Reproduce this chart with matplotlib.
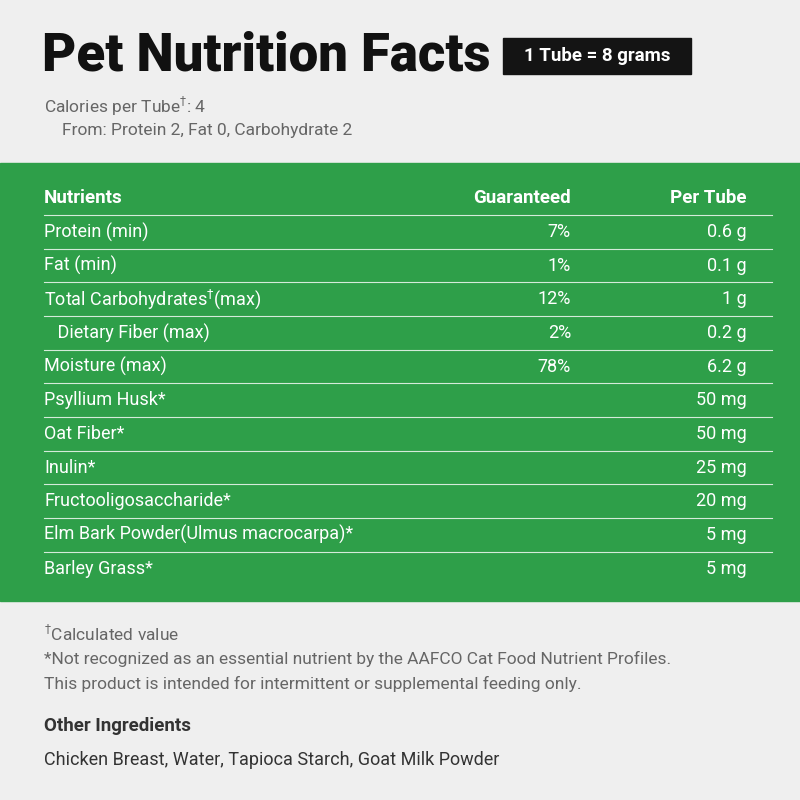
import matplotlib.pyplot as plt
from matplotlib.patches import Rectangle

nutrients = ['Protein (min)', 'Fat (min)', 'Total Carbohydrates$^{\\dagger}$(max)', '   Dietary Fiber (max)',
             'Moisture (max)', 'Psyllium Husk*', 'Oat Fiber*', 'Inulin*', 'Fructooligosaccharide*',
             'Elm Bark Powder(Ulmus macrocarpa)*', 'Barley Grass*']
guaranteed = ['7%', '1%', '12%', '2%', '78%', '', '', '', '', '', '']
per_tube = ['0.6 g', '0.1 g', '1 g', '0.2 g', '6.2 g', '50 mg', '50 mg', '25 mg', '20 mg', '5 mg', '5 mg']

green = '#2e9f49'
bg = '#efefef'
font = 'Roboto'

fig = plt.figure(figsize=(8, 8), dpi=100, facecolor=bg)
ax = fig.add_axes([0, 0, 1, 1])
ax.set_xlim(0, 800)
ax.set_ylim(800, 0)
ax.axis('off')
ax.set_facecolor(bg)

# title
ax.text(42, 56, 'Pet Nutrition Facts', fontsize=38, fontweight='black', family=font,
        va='center', ha='left', color='#111111')
ax.add_patch(Rectangle((503, 38), 188, 36, color='#141414'))
ax.text(597, 56, '1 Tube = 8 grams', fontsize=13.5, fontweight='bold', family=font,
        color='white', va='center', ha='center')
ax.text(44, 106, 'Calories per Tube$^{\\dagger}$: 4', fontsize=12.5, family=font, color='#666666', va='center')
ax.text(62, 130, 'From: Protein 2, Fat 0, Carbohydrate 2', fontsize=12.5, family=font, color='#666666', va='center')

# green table
ax.add_patch(Rectangle((0, 163), 800, 438, color=green))
ax.text(44, 198, 'Nutrients', fontsize=13.5, fontweight='bold', family=font, color='white', va='center')
ax.text(571, 198, 'Guaranteed', fontsize=13.5, fontweight='bold', family=font, color='white', va='center', ha='right')
ax.text(747, 198, 'Per Tube', fontsize=13.5, fontweight='bold', family=font, color='white', va='center', ha='right')
step = 33.65
for i, (n, g, p) in enumerate(zip(nutrients, guaranteed, per_tube)):
    y = 232 + i * step
    ax.plot([44, 772], [y - step / 2, y - step / 2], color='white', lw=0.8, alpha=0.8)
    ax.text(44, y, n, fontsize=13, family=font, color='white', va='center')
    ax.text(571, y, g, fontsize=13, family=font, color='white', va='center', ha='right')
    ax.text(747, y, p, fontsize=13, family=font, color='white', va='center', ha='right')

# footnotes
ax.text(44, 634, '$^{\\dagger}$Calculated value', fontsize=12.5, family=font, color='#666666', va='center')
ax.text(44, 659, '*Not recognized as an essential nutrient by the AAFCO Cat Food Nutrient Profiles.',
        fontsize=12.5, family=font, color='#666666', va='center')
ax.text(44, 684, 'This product is intended for intermittent or supplemental feeding only.',
        fontsize=12.5, family=font, color='#666666', va='center')
ax.text(44, 726, 'Other Ingredients', fontsize=13.5, fontweight='bold', family=font, color='#333333', va='center')
ax.text(44, 760, 'Chicken Breast, Water, Tapioca Starch, Goat Milk Powder', fontsize=13,
        family=font, color='#333333', va='center')

fig.savefig('out.png', dpi=100, facecolor=bg)
